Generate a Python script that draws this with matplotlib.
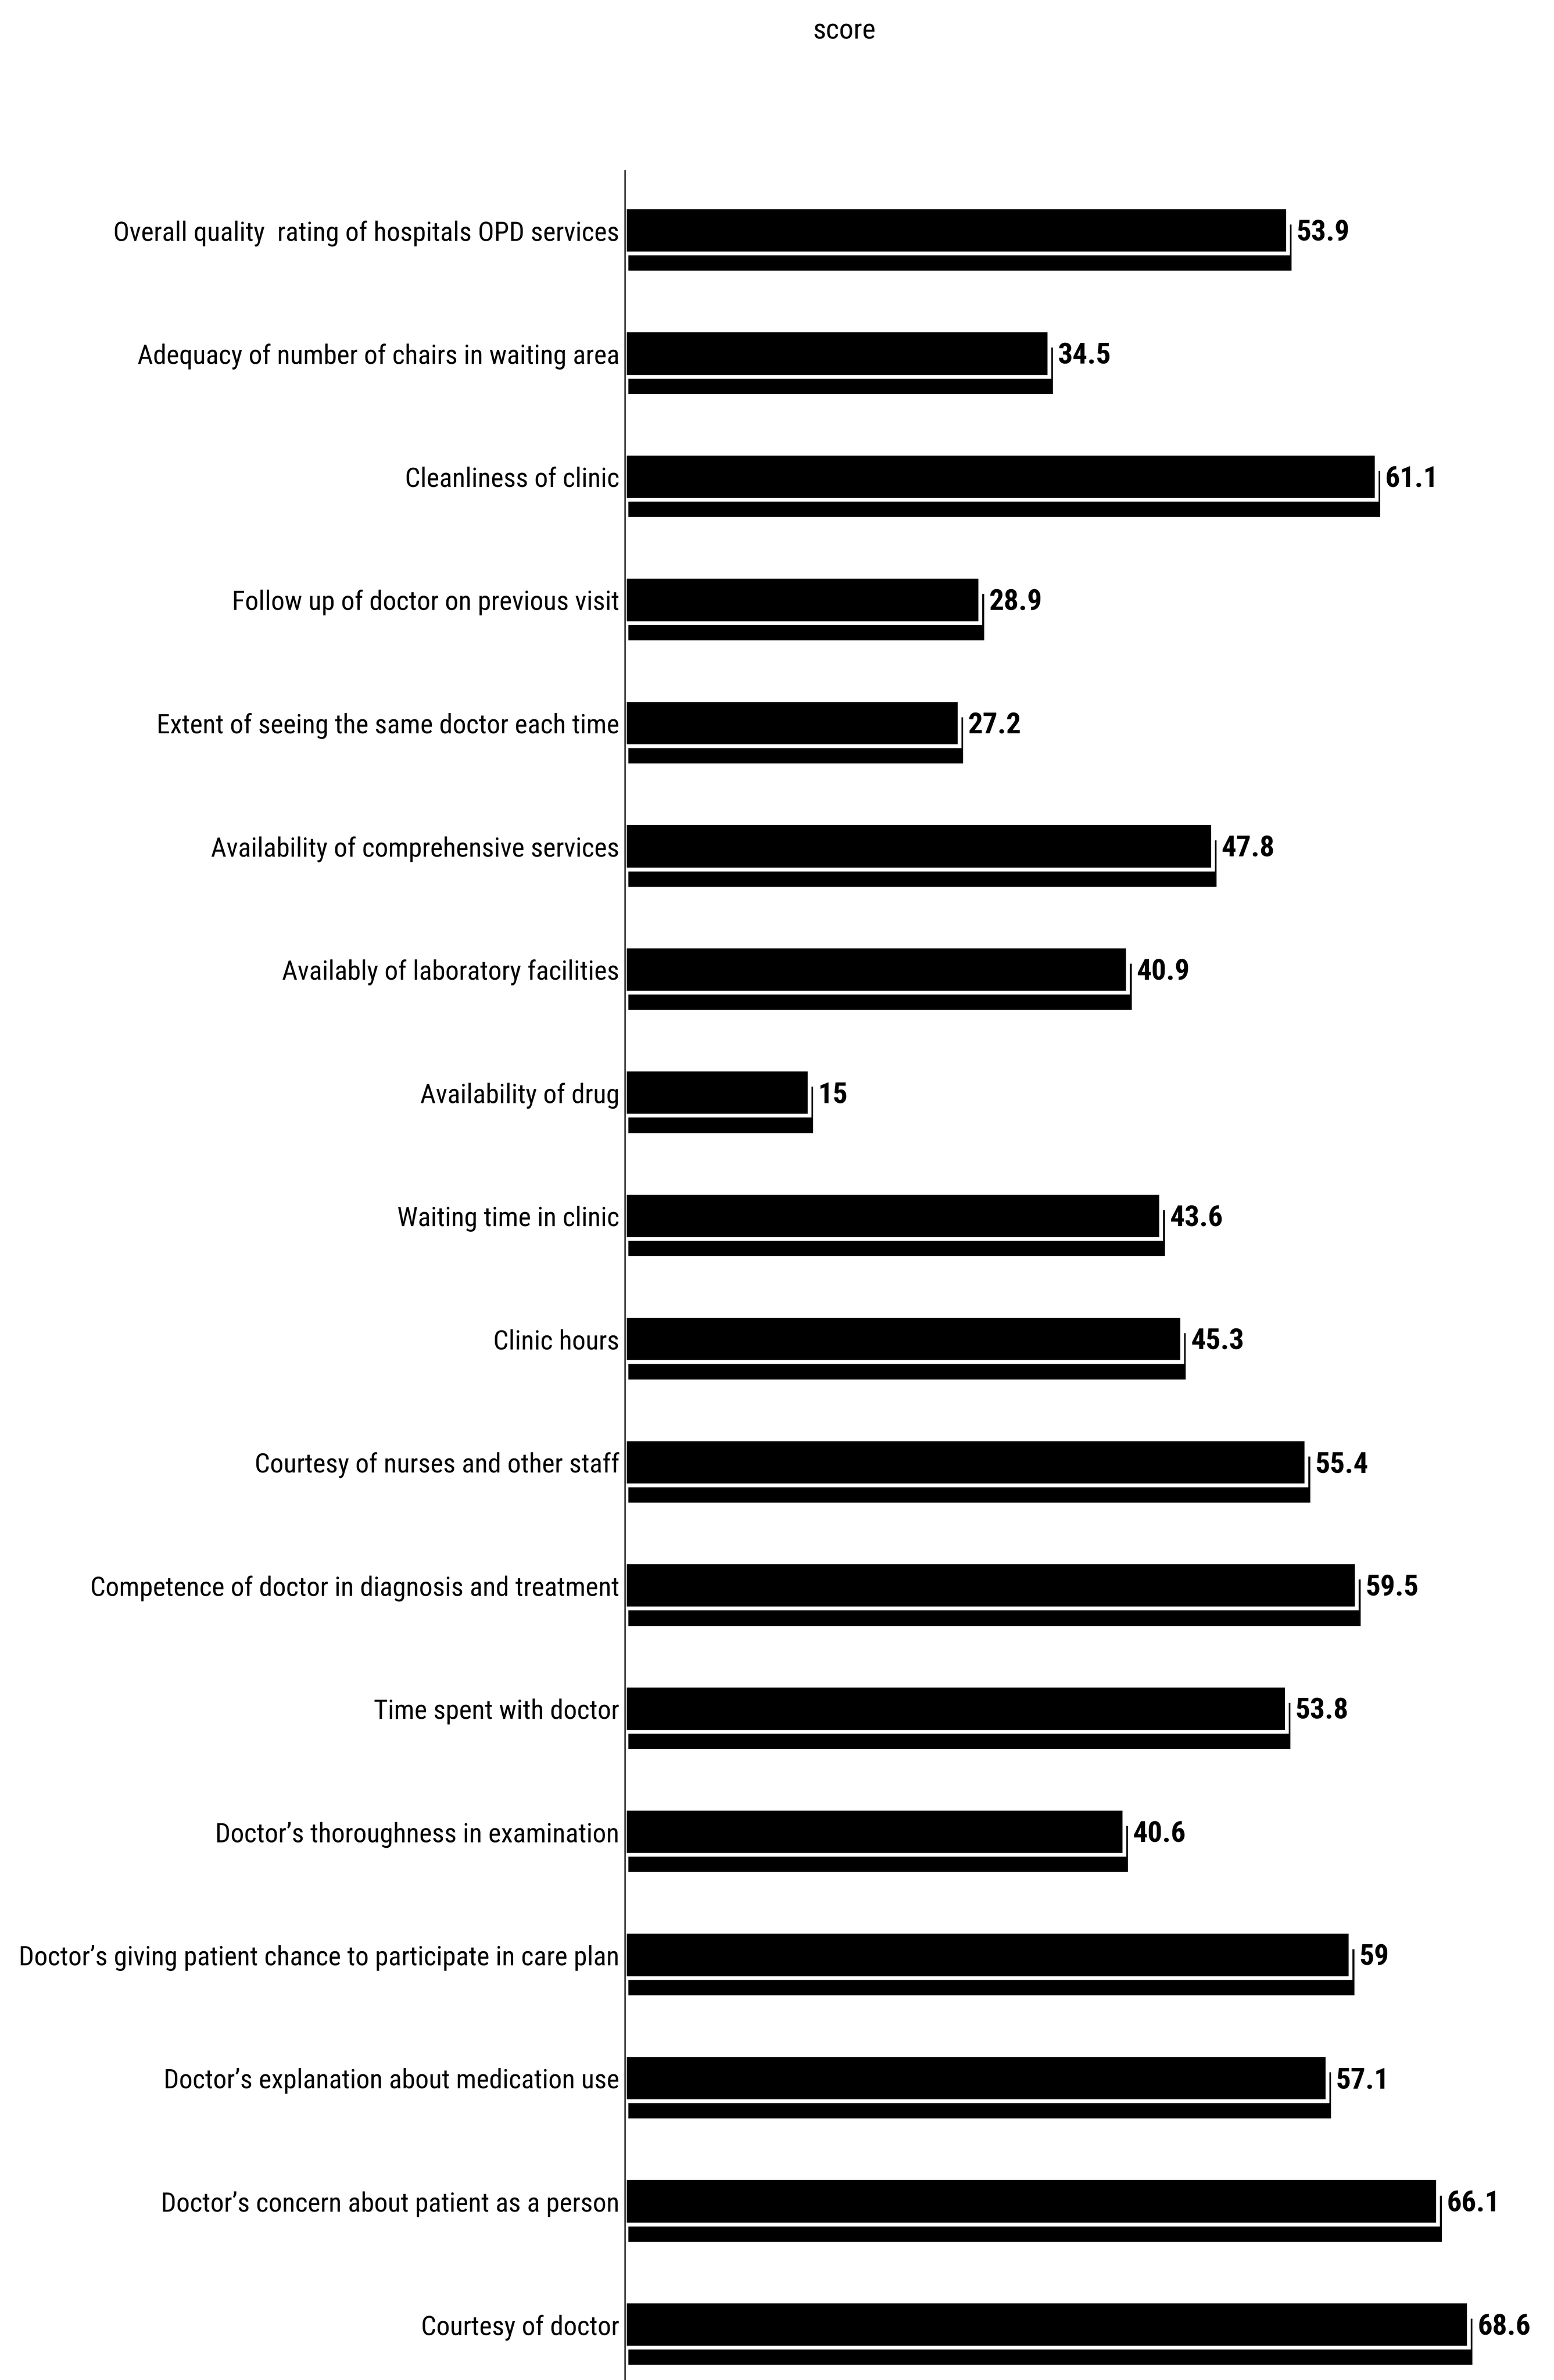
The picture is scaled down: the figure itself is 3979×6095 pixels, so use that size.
import matplotlib
matplotlib.use("Agg")
import matplotlib.pyplot as plt
from matplotlib import font_manager
import numpy as np

# Items in top-to-bottom order with their scores
items = [
    "Overall quality  rating of hospitals OPD services",
    "Adequacy of number of chairs in waiting area",
    "Cleanliness of clinic",
    "Follow up of doctor on previous visit",
    "Extent of seeing the same doctor each time",
    "Availability of comprehensive services",
    "Availably of laboratory facilities",
    "Availability of drug",
    "Waiting time in clinic",
    "Clinic hours",
    "Courtesy of nurses and other staff",
    "Competence of doctor in diagnosis and treatment",
    "Time spent with doctor",
    "Doctor\u2019s thoroughness in examination",
    "Doctor\u2019s giving patient chance to participate in care plan",
    "Doctor\u2019s explanation about medication use",
    "Doctor\u2019s concern about patient as a person",
    "Courtesy of doctor",
]
scores = [53.9, 34.5, 61.1, 28.9, 27.2, 47.8, 40.9, 15, 43.6, 45.3,
          55.4, 59.5, 53.8, 40.6, 59, 57.1, 66.1, 68.6]
score_labels = ["53.9", "34.5", "61.1", "28.9", "27.2", "47.8", "40.9", "15",
                "43.6", "45.3", "55.4", "59.5", "53.8", "40.6", "59", "57.1",
                "66.1", "68.6"]

# pick the narrowest face that is installed
narrow = [f for f in font_manager.fontManager.ttflist
          if ('Narrow' in f.name or 'Condensed' in f.name
              or str(f.stretch) in ('condensed', 'semi-condensed', 'extra-condensed',
                                    '75', '87', '62'))]
stretch = 'normal'
family = 'DejaVu Sans'
for pref in ['Liberation Sans Narrow', 'Roboto Condensed', 'Open Sans Condensed',
             'Noto Sans Condensed', 'DejaVu Sans']:
    hit = [f for f in narrow if f.name == pref]
    if hit:
        family = pref
        stretch = hit[0].stretch
        break
plt.rcParams['font.family'] = [family, 'DejaVu Sans']
plt.rcParams['font.stretch'] = stretch

W, H, DPI = 3980, 6095, 100
fig = plt.figure(figsize=(W / DPI, H / DPI), dpi=DPI)
renderer = fig.canvas.get_renderer()


def fit_size(s, width_px, base=50, **kw):
    t = fig.text(0, 0, s, fontsize=base, **kw)
    w = t.get_window_extent(renderer).width
    t.remove()
    return base * width_px / w


label_fs = fit_size(items[14], 1540)
value_fs = fit_size("53.9", 136, fontweight='bold')
title_fs = fit_size("score", 161)

ax = fig.add_axes([1600 / W, 0.0, 1 - 1600 / W, 1 - 437 / H])

y = np.arange(len(items))
bar_h = 0.375

# drop shadow under each bar
ax.barh(y + 0.14, scores, height=bar_h, left=0.3, color='black', zorder=1)
# main bar with a white rim separating it from the shadow
ax.barh(y, scores, height=bar_h, color='black', edgecolor='white',
        linewidth=7, zorder=2)

for yi, v, s in zip(y, scores, score_labels):
    ax.text(v + 0.7, yi + 0.02, s, ha='left', va='center', fontsize=value_fs,
            fontweight='bold', zorder=3)

ax.set_xlim(0, (W - 1600) / 31.5)
ax.set_ylim(17.45, -0.485)
ax.set_yticks(y)
ax.set_yticklabels(items, fontsize=label_fs)
ax.tick_params(axis='y', length=0, pad=10)
ax.set_xticks([])
for side in ['top', 'right', 'bottom']:
    ax.spines[side].set_visible(False)
ax.spines['left'].set_linewidth(2.5)

fig.text(2162 / W, 1 - 80 / H, "score", ha='center', va='center', fontsize=title_fs)

fig.savefig("out.png", dpi=DPI)
